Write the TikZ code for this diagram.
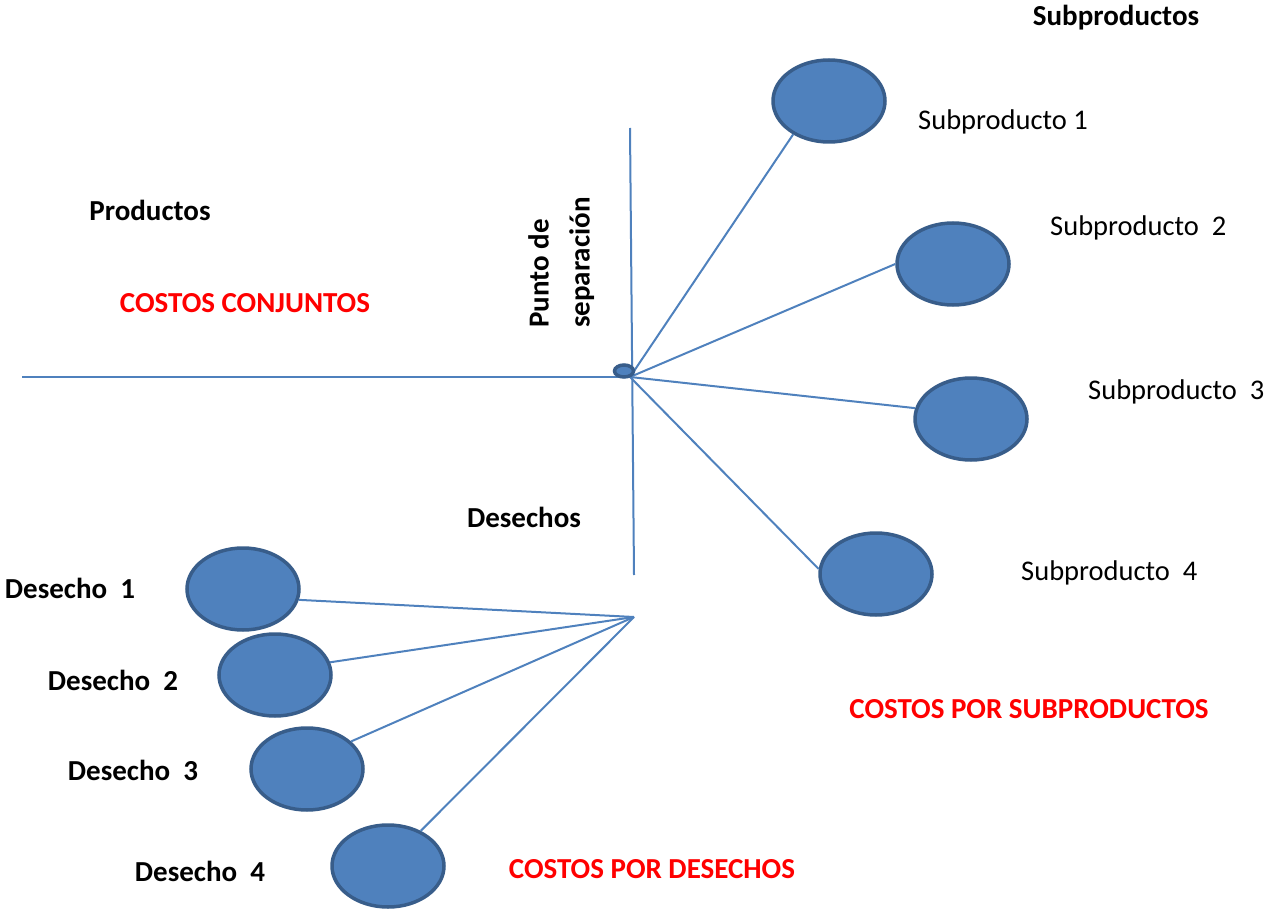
\documentclass[tikz,border=0pt]{standalone}
\usepackage{fontspec}
\setmainfont{Carlito}
\usepackage{tikz}
\usetikzlibrary{shapes.geometric}
\usepackage{xcolor}
\definecolor{elfill}{HTML}{4F81BD}
\definecolor{eldraw}{HTML}{385D8A}
\definecolor{linea}{HTML}{4F81BD}

\begin{document}
\begin{tikzpicture}[
  x=1pt, y=-1pt,
  elip/.style={ellipse, draw=eldraw, fill=elfill, line width=3.5pt, minimum width=112pt, minimum height=82pt, inner sep=0pt},
  lbl/.style={inner sep=0pt, font=\fontsize{28.5}{34}\selectfont},
  lblb/.style={lbl, font=\fontsize{29}{35}\selectfont\bfseries},
  costo/.style={lblb, text=red},
  lin/.style={draw=linea, line width=2pt}
]
\useasboundingbox (0,0) rectangle (1271,909);
% lineas de referencia
\coordinate (hub) at (630,377);
\coordinate (izq) at (22,377);
\coordinate (vtop) at (630,128);
\coordinate (vbot) at (634,575);
\coordinate (hubd) at (634,617);
\draw[lin] (izq) -- (hub);
\draw[lin] (vtop) -- (vbot);
% subproductos
\node[elip] (sub1) at (829,101) {};
\node[elip] (sub2) at (953,264) {};
\node[elip] (sub3) at (971,419) {};
\node[elip] (sub4) at (876,574) {};
% desechos
\node[elip] (des1) at (243,589) {};
\node[elip] (des2) at (275,675) {};
\node[elip] (des3) at (307,769) {};
\node[elip] (des4) at (388,866) {};
\draw[lin] (hub) -- (sub1.223);
\draw[lin] (hub) -- (sub2.180);
\draw[lin] (hub) -- (sub3.169);
\draw[lin] (hub) -- (sub4.175);
\draw[lin] (hubd) -- (des1.349);
\draw[lin] (hubd) -- (des2.13);
\draw[lin] (hubd) -- (des3.32);
\draw[lin] (hubd) -- (des4.47);
\node[ellipse, draw=eldraw, fill=elfill, line width=3.5pt, minimum width=19pt, minimum height=12pt, inner sep=0pt] (punto) at (624,371) {};
% textos
\node[lblb] (tsub) at (1116,18) {Subproductos};
\node[lbl, anchor=west] (tsub1) at (918,122) {Subproducto 1};
\node[lbl, anchor=west] (tsub2) at (1050,228) {Subproducto~~2};
\node[lbl, anchor=west] (tsub3) at (1088,392) {Subproducto~~3};
\node[lbl, anchor=west] (tsub4) at (1021,573) {Subproducto~~4};
\node[lblb] (tprod) at (150,210) {Productos};
\node[costo] (tconj) at (245,303) {COSTOS CONJUNTOS};
\node[lblb, rotate=90, align=left, anchor=north west, font=\fontsize{29}{41}\selectfont\bfseries] (tpunto) at (528,328) {Punto de\\separación};
\node[lblb] (tdes) at (524,517) {Desechos};
\node[lblb] (tdes1) at (70,588) {Desecho~~1};
\node[lblb] (tdes2) at (113,680) {Desecho~~2};
\node[lblb] (tdes3) at (133,770) {Desecho~~3};
\node[lblb] (tdes4) at (200,871) {Desecho~~4};
\node[costo] (tcsub) at (1029,709) {COSTOS POR SUBPRODUCTOS};
\node[costo] (tcdes) at (652,869) {COSTOS POR DESECHOS};
\end{tikzpicture}
\end{document}
